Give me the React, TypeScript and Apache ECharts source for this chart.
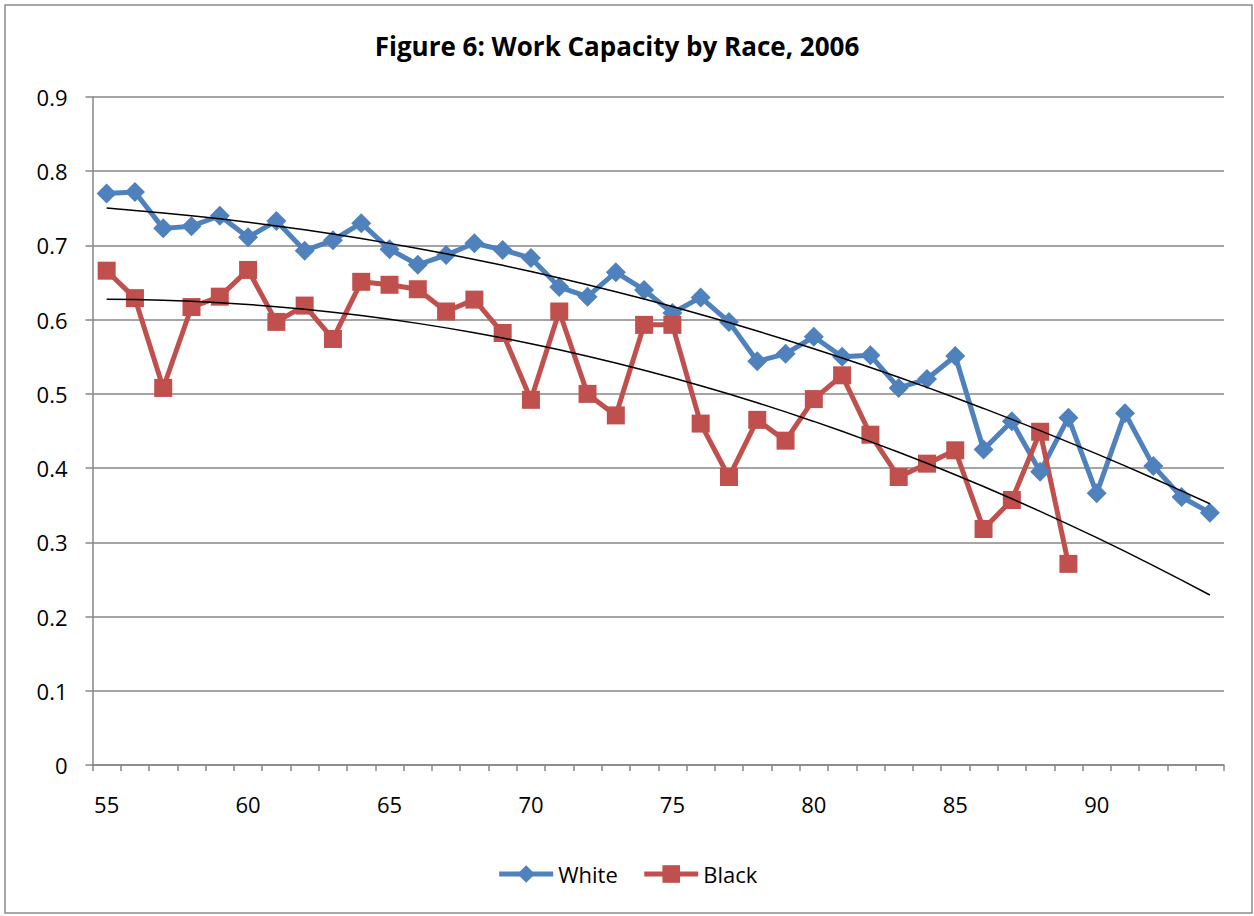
import React, { useEffect, useRef } from "react";
import * as echarts from "echarts";

// Age categories along the horizontal axis
const ages = [
  "55", "56", "57", "58", "59", "60", "61", "62", "63", "64",
  "65", "66", "67", "68", "69", "70", "71", "72", "73", "74",
  "75", "76", "77", "78", "79", "80", "81", "82", "83", "84",
  "85", "86", "87", "88", "89", "90", "91", "92", "93", "94",
];

// Work capacity share by age
const white = [
  0.770, 0.772, 0.723, 0.726, 0.740, 0.711, 0.733, 0.693, 0.707, 0.730,
  0.695, 0.674, 0.687, 0.703, 0.694, 0.683, 0.644, 0.631, 0.664, 0.640,
  0.609, 0.630, 0.597, 0.544, 0.554, 0.577, 0.550, 0.552, 0.508, 0.520,
  0.551, 0.425, 0.463, 0.395, 0.468, 0.366, 0.474, 0.403, 0.361, 0.340,
];

const black: (number | null)[] = [
  0.666, 0.629, 0.508, 0.617, 0.631, 0.667, 0.597, 0.619, 0.574, 0.651,
  0.647, 0.641, 0.611, 0.627, 0.582, 0.492, 0.611, 0.500, 0.471, 0.593,
  0.593, 0.460, 0.388, 0.465, 0.437, 0.493, 0.525, 0.445, 0.388, 0.406,
  0.424, 0.318, 0.357, 0.449, 0.271, null, null, null, null, null,
];

const TITLE = "Figure 6: Work Capacity by Race, 2006";
const FONT = "'Open Sans', 'Liberation Sans', sans-serif";

// Second-order polynomial least-squares trend over the non-empty points,
// evaluated across every category (x = 1..n, as spreadsheet trendlines do).
function polyTrend(values: (number | null)[]): number[] {
  const pts: [number, number][] = [];
  values.forEach((v, i) => {
    if (v !== null && v !== undefined) pts.push([i + 1, v]);
  });
  // normal equations for y = a + b x + c x^2
  const s = [0, 0, 0, 0, 0];
  const t = [0, 0, 0];
  for (const [x, y] of pts) {
    let xp = 1;
    for (let k = 0; k < 5; k++) {
      s[k] += xp;
      if (k < 3) t[k] += xp * y;
      xp *= x;
    }
  }
  const m = [
    [s[0], s[1], s[2], t[0]],
    [s[1], s[2], s[3], t[1]],
    [s[2], s[3], s[4], t[2]],
  ];
  for (let c = 0; c < 3; c++) {
    let p = c;
    for (let r = c + 1; r < 3; r++) if (Math.abs(m[r][c]) > Math.abs(m[p][c])) p = r;
    [m[c], m[p]] = [m[p], m[c]];
    for (let r = 0; r < 3; r++) {
      if (r === c) continue;
      const f = m[r][c] / m[c][c];
      for (let k = c; k < 4; k++) m[r][k] -= f * m[c][k];
    }
  }
  const a = m[0][3] / m[0][0];
  const b = m[1][3] / m[1][1];
  const c2 = m[2][3] / m[2][2];
  return values.map((_, i) => {
    const x = i + 1;
    return a + b * x + c2 * x * x;
  });
}

export default function App() {
  const ref = useRef<HTMLDivElement>(null);

  useEffect(() => {
    if (!ref.current) return;
    const chart = echarts.init(ref.current, undefined, { renderer: "svg" });

    const axisGray = "#868686";
    const blue = "#4F81BD";
    const red = "#C0504D";

    chart.setOption({
      animation: false,
      backgroundColor: "#ffffff",
      textStyle: { fontFamily: FONT },
      graphic: [
        {
          type: "rect",
          shape: { x: 5, y: 5, width: 1247, height: 908 },
          style: { fill: "none", stroke: "#8c8c8c", lineWidth: 1.5 },
          silent: true,
          z: -1,
        },
        {
          type: "text",
          x: 617,
          y: 46,
          style: {
            text: TITLE,
            fontFamily: FONT,
            fontWeight: "bold",
            fontSize: 26,
            fill: "#000000",
            textAlign: "center",
            textVerticalAlign: "middle",
          },
        },
      ],
      legend: {
        data: ["White", "Black"],
        bottom: 26,
        left: "center",
        itemWidth: 54,
        itemHeight: 22,
        itemGap: 24,
        lineStyle: { width: 5 },
        textStyle: { fontSize: 22, color: "#000000", fontFamily: FONT },
      },
      grid: {
        left: 92.5,
        right: 30,
        top: 97,
        bottom: 151,
        containLabel: false,
      },
      xAxis: {
        type: "category",
        data: ages,
        boundaryGap: true,
        axisLine: { lineStyle: { color: axisGray, width: 1.5 } },
        axisTick: {
          show: true,
          interval: 0,
          length: 6,
          lineStyle: { color: axisGray, width: 1.5 },
        },
        axisLabel: {
          interval: 4,
          color: "#000000",
          fontSize: 22,
          margin: 28,
          fontFamily: FONT,
        },
        splitLine: { show: false },
      },
      yAxis: {
        type: "value",
        min: 0,
        max: 0.9,
        interval: 0.1,
        axisLine: { show: true, lineStyle: { color: axisGray, width: 1.5 } },
        axisTick: { show: true, length: 7, lineStyle: { color: axisGray, width: 1.5 } },
        axisLabel: {
          color: "#000000",
          fontSize: 22,
          margin: 25,
          fontFamily: FONT,
          formatter: (v: number) => String(Number(v.toFixed(1))),
        },
        splitLine: { show: true, lineStyle: { color: axisGray, width: 1.5 } },
      },
      series: [
        {
          name: "White",
          type: "line",
          data: white,
          symbol: "diamond",
          symbolSize: 20,
          showAllSymbol: true,
          lineStyle: { color: blue, width: 5 },
          itemStyle: { color: blue },
          z: 3,
        },
        {
          name: "Black",
          type: "line",
          data: black,
          symbol: "rect",
          symbolSize: 18,
          showAllSymbol: true,
          lineStyle: { color: red, width: 5 },
          itemStyle: { color: red },
          connectNulls: false,
          z: 3,
        },
        {
          name: "White trend",
          type: "line",
          data: polyTrend(white),
          symbol: "none",
          lineStyle: { color: "#000000", width: 1.5 },
          silent: true,
          z: 4,
        },
        {
          name: "Black trend",
          type: "line",
          data: polyTrend(black),
          symbol: "none",
          lineStyle: { color: "#000000", width: 1.5 },
          silent: true,
          z: 4,
        },
      ],
    });

    return () => chart.dispose();
  }, []);

  return (
    <div
      ref={ref}
      style={{ position: "absolute", left: 0, top: 0, width: 1254, height: 916 }}
    />
  );
}
